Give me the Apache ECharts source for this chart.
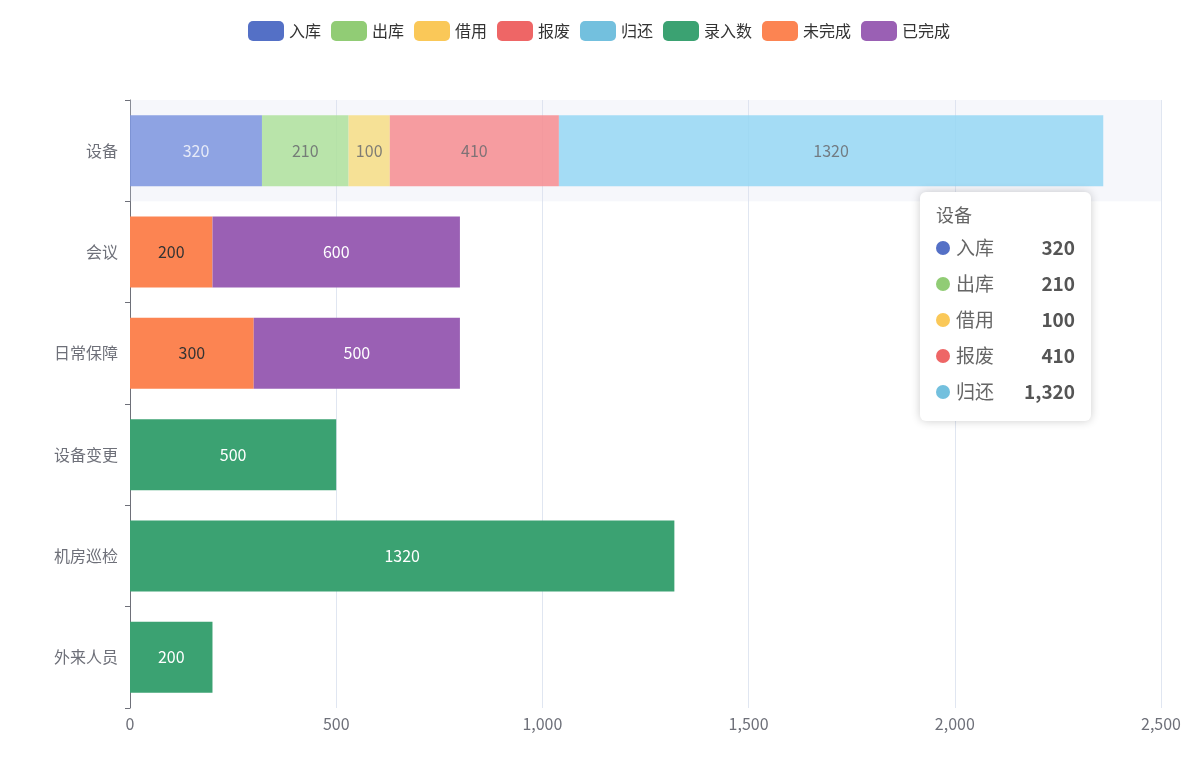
<!DOCTYPE html>
<html>
<head>
<meta charset="utf-8">
<script src="https://cdn.jsdelivr.net/npm/echarts@6/dist/echarts.min.js"></script>
<style>html,body{margin:0;padding:0}#main{width:1198px;height:764px}</style>
</head>
<body>
<div id="main"></div>
<script>
var categories = ['设备', '会议', '日常保障', '设备变更', '机房巡检', '外来人员'];
var seriesNames = ['入库', '出库', '借用', '报废', '归还', '录入数', '未完成', '已完成'];
var colors = ['#5470c6', '#91cc75', '#fac858', '#ee6666', '#73c0de', '#3ba272', '#fc8452', '#9a60b4'];
var labelColors = ['#fff', '#444', '#444', '#444', '#444', '#fff', '#333', '#fff'];
var inbound = [320, '-', '-', '-', '-', '-'];
var outbound = [210, '-', '-', '-', '-', '-'];
var borrow = [100, '-', '-', '-', '-', '-'];
var scrap = [410, '-', '-', '-', '-', '-'];
var giveBack = [1320, '-', '-', '-', '-', '-'];
var entered = ['-', '-', '-', 500, 1320, 200];
var unfinished = ['-', 200, 300, '-', '-', '-'];
var finished = ['-', 600, 500, '-', '-', '-'];
var allData = [inbound, outbound, borrow, scrap, giveBack, entered, unfinished, finished];
var font = '"Noto Sans CJK SC", sans-serif';

var chart = echarts.init(document.getElementById('main'));
var series = seriesNames.map(function (name, i) {
  var d = allData[i].map(function (v, j) {
    // first row looks highlighted in the reference
    if (j === 0 && v !== '-') return { value: v, itemStyle: { opacity: 0.85 } };
    return v;
  });
  return {
    name: name,
    type: 'bar',
    stack: 'total',
    barWidth: '70%',
    label: { show: true, fontSize: 16, color: labelColors[i], fontFamily: font },
    data: d
  };
});

chart.setOption({
  color: colors,
  textStyle: { fontFamily: font },
  legend: { top: 16, itemWidth: 36, itemHeight: 20, itemGap: 10, textStyle: { fontSize: 16, color: '#333' } },
  tooltip: {
    trigger: 'axis',
    axisPointer: { type: 'shadow', shadowStyle: { color: 'rgba(220,225,240,0.25)' } },
    position: [920, 192],
    borderWidth: 0,
    padding: [12, 16],
    extraCssText: 'box-shadow:0 0 10px rgba(0,0,0,0.2);border-radius:6px;',
    formatter: function (params) {
      var html = '<div style="font-size:18px;color:#666;margin-bottom:4px">' + params[0].name + '</div>';
      params.forEach(function (p) {
        if (p.value === '-' || p.value == null || isNaN(p.value)) return;
        html += '<div style="font-size:19px;color:#666;line-height:36px"><span style="display:inline-block;width:14px;height:14px;border-radius:7px;margin-right:6px;background:' + p.color + '"></span>' + p.seriesName +
          '<span style="float:right;margin-left:30px;font-weight:bold;color:#555">' + Number(p.value).toLocaleString('en-US') + '</span></div>';
      });
      return html;
    }
  },
  grid: { left: 130, right: 37, top: 100, bottom: 56 },
  xAxis: { type: 'value', max: 2500, interval: 500, axisLabel: { fontSize: 16, color: '#6e7079' }, splitLine: { lineStyle: { color: '#e0e6f1' } } },
  yAxis: {
    type: 'category', inverse: true, data: categories,
    axisLine: { lineStyle: { color: '#6e7079' } },
    axisLabel: { fontSize: 16, margin: 12, color: '#6e7079' }, axisTick: { show: true }
  },
  series: series
});
setTimeout(function () {
  chart.dispatchAction({ type: 'showTip', seriesIndex: 0, dataIndex: 0 });
}, 300);
</script>
</body>
</html>
